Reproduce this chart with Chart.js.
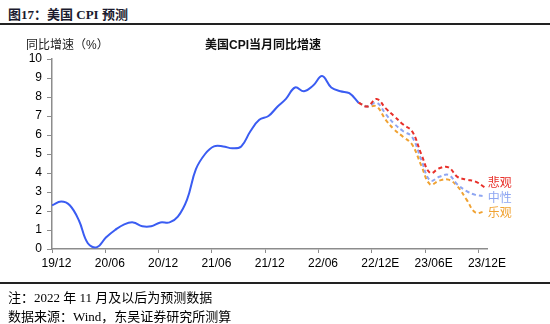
<!DOCTYPE html>
<html>
<head>
<meta charset="utf-8">
<script src="https://cdn.jsdelivr.net/npm/chart.js@4.4.1/dist/chart.umd.min.js"></script>
<style>
  body { margin: 0; background: #fff; }
  #wrap { position: relative; width: 550px; height: 324px; overflow: hidden; font-family: "Liberation Sans", "Noto Sans CJK SC", sans-serif; }
  #wrap canvas { position: absolute; left: 0; top: 0; }
  .txt { position: absolute; white-space: nowrap; color: #000; }
  .head { left: 8px; top: 4px; font: bold 13px "Liberation Serif", "Noto Sans CJK SC", serif; color: #1a1a2e; }
  .rule { position: absolute; left: 0; width: 550px; height: 1.5px; background: #222; }
  .note { left: 8px; font: 13px "Liberation Serif", "Noto Sans CJK SC", serif; }
  .ytitle { left: 26px; top: 35px; font-size: 12px; color: #222; }
  .ctitle { left: 205px; top: 35px; font-size: 12px; font-weight: bold; color: #111; }
</style>
</head>
<body>
<div id="wrap">
  <div class="txt head">图17：美国 CPI 预测</div>
  <div class="rule" style="top:23px"></div>
  <canvas id="myChart" width="550" height="324"></canvas>
  <div class="txt ytitle">同比增速（%）</div>
  <div class="txt ctitle">美国CPI当月同比增速</div>
  <div class="rule" style="top:282px"></div>
  <div class="txt note" style="top:287px">注：2022 年 11 月及以后为预测数据</div>
  <div class="txt note" style="top:306px">数据来源：Wind，东吴证券研究所测算</div>
</div>
<script>
// months 2019-12 .. 2022-10 actual
const actualMonths = ['2019-12',
  '2020-01','2020-02','2020-03','2020-04','2020-05','2020-06','2020-07','2020-08','2020-09','2020-10','2020-11','2020-12',
  '2021-01','2021-02','2021-03','2021-04','2021-05','2021-06','2021-07','2021-08','2021-09','2021-10','2021-11','2021-12',
  '2022-01','2022-02','2022-03','2022-04','2022-05','2022-06','2022-07','2022-08','2022-09','2022-10'];
const actualCPI = [2.3,
  2.5, 2.3, 1.5, 0.3, 0.1, 0.6, 1.0, 1.3, 1.4, 1.2, 1.2, 1.4,
  1.4, 1.7, 2.6, 4.2, 5.0, 5.4, 5.4, 5.3, 5.4, 6.2, 6.8, 7.0,
  7.5, 7.9, 8.5, 8.3, 8.6, 9.1, 8.5, 8.3, 8.2, 7.7];

// forecast months 2022-10 .. 2023-12 (starts at last actual)
const forecastMonths = ['2022-10','2022-11','2022-12',
  '2023-01','2023-02','2023-03','2023-04','2023-05','2023-06','2023-07','2023-08','2023-09','2023-10','2023-11','2023-12'];
const pessimistic = [7.7, 7.5, 7.9, 7.4, 7.0, 6.55, 6.2, 5.0, 4.0, 4.25, 4.3, 3.8, 3.65, 3.55, 3.25];
const neutral     = [7.7, 7.5, 7.7, 7.1, 6.6, 6.2, 5.9, 4.7, 3.6, 3.8, 3.9, 3.4, 3.05, 2.85, 2.78];
const optimistic  = [7.7, 7.5, 7.5, 6.8, 6.3, 5.9, 5.5, 4.4, 3.4, 3.6, 3.65, 3.3, 2.6, 1.92, 1.98];

const xTickLabels = ['19/12','20/06','20/12','21/06','21/12','22/06','22/12E','23/06E','23/12E'];
const yTicks = [0,1,2,3,4,5,6,7,8,9,10];

// date axis like the original: days since 2019-12-31, points at month end
const dayMs = 86400000;
const origin = Date.UTC(2019, 11, 31);
function monthEndDay(m) {
  const [y, mo] = m.split('-').map(Number);
  return (Date.UTC(y, mo, 0) - origin) / dayMs;
}
function toPoints(months, vals) {
  return months.map((m, i) => ({x: monthEndDay(m), y: vals[i]}));
}
const tickStep = 180;
const lastDay = monthEndDay('2023-12');

const endLabels = {
  id: 'endLabels',
  afterDatasetsDraw(chart) {
    const ctx = chart.ctx;
    ctx.save();
    ctx.font = '12px "Noto Sans CJK SC", sans-serif';
    ctx.textBaseline = 'middle';
    chart.data.datasets.forEach((ds, i) => {
      if (!ds.endLabel) return;
      const pts = chart.getDatasetMeta(i).data;
      const p = pts[pts.length - 1];
      ctx.fillStyle = ds.borderColor;
      ctx.fillText(ds.endLabel, p.x + 3, p.y + (ds.labelDy || 0));
    });
    ctx.restore();
  }
};

const axisColor = '#8c8c8c';
const ctx = document.getElementById('myChart');
const chart = new Chart(ctx, {
  type: 'line',
  data: {
    datasets: [
      { label: '实际', data: toPoints(actualMonths, actualCPI), borderColor: '#3a5cf2', borderWidth: 2 },
      { label: '悲观', endLabel: '悲观', labelDy: -5, data: toPoints(forecastMonths, pessimistic), borderColor: '#e8302a', borderWidth: 2, borderDash: [4, 3] },
      { label: '中性', endLabel: '中性', labelDy: 1, data: toPoints(forecastMonths, neutral), borderColor: '#8ea6f2', borderWidth: 2, borderDash: [4, 3] },
      { label: '乐观', endLabel: '乐观', labelDy: 1, data: toPoints(forecastMonths, optimistic), borderColor: '#f0a232', borderWidth: 2, borderDash: [4, 3] }
    ]
  },
  options: {
    responsive: false,
    animation: false,
    devicePixelRatio: 1,
    layout: { padding: { left: 0, right: 63, top: 59, bottom: 55 } },
    elements: { point: { radius: 0 }, line: { tension: 0.4, fill: false } },
    plugins: { legend: { display: false }, tooltip: { enabled: false } },
    scales: {
      x: {
        type: 'linear',
        min: 0,
        max: lastDay + 8,
        afterFit(s) { s.height = 20; },
        afterBuildTicks(s) { s.ticks = xTickLabels.map((l, k) => ({ value: k * tickStep })); },
        ticks: {
          callback: (v, i) => xTickLabels[i],
          autoSkip: false, maxRotation: 0, align: 'start', labelOffset: -10.5, padding: 3,
          color: '#000', font: { family: '"Liberation Sans", Arial', size: 12 }
        },
        grid: { drawOnChartArea: false, drawTicks: true, tickLength: 4, color: axisColor },
        border: { display: true, color: axisColor, width: 1.5 }
      },
      y: {
        min: 0,
        max: 10,
        afterFit(s) { s.width = 52; },
        afterBuildTicks(s) { s.ticks = yTicks.map(v => ({ value: v })); },
        ticks: { padding: 5, color: '#000', font: { family: '"Liberation Sans", Arial', size: 12 } },
        grid: { drawOnChartArea: false, drawTicks: true, tickLength: 5, color: axisColor },
        border: { display: true, color: axisColor, width: 1.5 }
      }
    }
  },
  plugins: [endLabels]
});
</script>
</body>
</html>
